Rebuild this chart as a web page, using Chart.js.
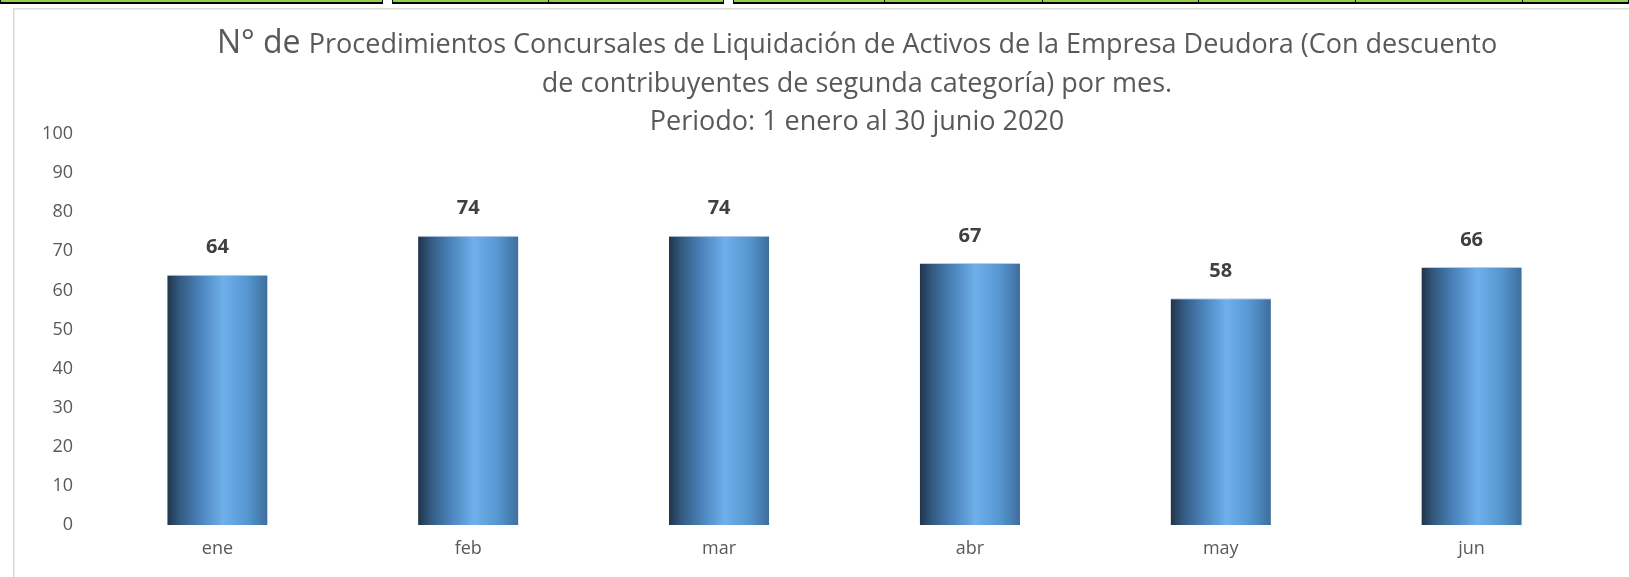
<!DOCTYPE html>
<html>
<head>
<meta charset="utf-8">
<script src="https://cdn.jsdelivr.net/npm/chart.js@4.4.0/dist/chart.umd.min.js"></script>
<style>
  html, body { margin: 0; padding: 0; background: #fff; }
  #wrap { width: 1629px; height: 577px; position: relative; }
</style>
</head>
<body>
<div id="wrap"><canvas id="myChart" width="1629" height="577"></canvas></div>
<script>
const months = ['ene', 'feb', 'mar', 'abr', 'may', 'jun'];
const counts = [64, 74, 74, 67, 58, 66];
const titleLead = 'N° de';
const titleLines = [
    'Procedimientos Concursales de Liquidación de Activos de la Empresa Deudora (Con descuento',
    'de contribuyentes de segunda categoría) por mes.',
    'Periodo: 1 enero al 30 junio 2020'
];

const FONT = "'Open Sans', 'Noto Sans', sans-serif";
let ctx = document.getElementById('myChart').getContext('2d');

// gradient for each bar, like the excel "cylinder" fill
function barFill(c) {
    const chart = c.chart;
    if (!chart.chartArea || !chart.scales.x) return '#5b9bd5';
    const xs = chart.scales.x;
    const step = xs.getPixelForValue(1) - xs.getPixelForValue(0);
    const w = step * 0.4;
    const cx = xs.getPixelForValue(c.dataIndex);
    const g = chart.ctx.createLinearGradient(cx - w / 2, 0, cx + w / 2, 0);
    g.addColorStop(0, '#203449');
    g.addColorStop(0.12, '#33597f');
    g.addColorStop(0.32, '#4a82ba');
    g.addColorStop(0.56, '#6fb0ec');
    g.addColorStop(0.8, '#5596cf');
    g.addColorStop(1, '#3e6e9c');
    return g;
}

// frame + table strip at the top of the sheet
const sheetBits = {
    id: 'sheetBits',
    beforeDraw(chart) {
        const c = chart.ctx;
        c.save();
        c.fillStyle = '#fff';
        c.fillRect(0, 0, chart.width, chart.height);
        // green cells
        const segs = [[0, 383], [392, 724], [733, 1629]];
        segs.forEach(s => {
            c.fillStyle = '#92d050';
            c.fillRect(s[0], 0, s[1] - s[0], 2);
            c.fillStyle = '#000';
            c.fillRect(s[0], 2, s[1] - s[0], 2);
            c.fillRect(s[0], 0, 1, 4);
            c.fillRect(s[1] - 1, 0, 1, 4);
        });
        [548, 884, 1042, 1198, 1355, 1522].forEach(x => {
            c.fillRect(x, 0, 1, 4);
        });
        // chart frame
        c.fillStyle = '#d9d9d9';
        c.fillRect(13, 8, chart.width - 13, 1.5);
        c.fillRect(13, 8, 1.5, chart.height - 8);
        c.restore();
    }
};

// title with the bigger "N° de"
const titlePlugin = {
    id: 'titlePlugin',
    afterDraw(chart) {
        const c = chart.ctx;
        const cx = 857;
        c.save();
        c.fillStyle = '#595959';
        c.textBaseline = 'alphabetic';
        c.font = '32px ' + FONT;
        const leadW = c.measureText(titleLead + ' ').width;
        c.font = '27px ' + FONT;
        const l1W = c.measureText(titleLines[0]).width;
        let x = cx - (leadW + l1W) / 2;
        c.textAlign = 'left';
        c.font = '32px ' + FONT;
        c.fillText(titleLead + ' ', x, 53);
        c.font = '27px ' + FONT;
        c.fillText(titleLines[0], x + leadW, 53);
        c.textAlign = 'center';
        c.fillText(titleLines[1], cx, 92);
        c.fillText(titleLines[2], cx, 130);
        c.restore();
    }
};

// values on top of bars
const valueLabels = {
    id: 'valueLabels',
    afterDatasetsDraw(chart) {
        const c = chart.ctx;
        const meta = chart.getDatasetMeta(0);
        c.save();
        c.fillStyle = '#404040';
        c.font = 'bold 20px ' + FONT;
        c.textAlign = 'center';
        c.textBaseline = 'middle';
        meta.data.forEach((bar, i) => {
            c.fillText(counts[i], bar.x, bar.y - 27);
        });
        c.restore();
    }
};

let chart = new Chart(ctx, {
    type: 'bar',
    data: {
        labels: months,
        datasets: [
            {
                label: 'N° de procedimientos',
                data: counts,
                backgroundColor: barFill,
                borderColor: 'rgba(175, 200, 230, 0.9)',
                borderWidth: { top: 1, left: 0, right: 0, bottom: 0 },
                borderSkipped: false,
                categoryPercentage: 1,
                barPercentage: 0.4
            }
        ]
    },
    options: {
        responsive: false,
        animation: false,
        layout: {
            padding: { left: 14, right: 32, top: 134, bottom: 12 }
        },
        plugins: {
            legend: { display: false },
            title: { display: false },
            tooltip: { enabled: false }
        },
        scales: {
            y: {
                min: 0,
                max: 100,
                ticks: {
                    stepSize: 10,
                    color: '#595959',
                    padding: 19,
                    font: { family: FONT, size: 18 }
                },
                grid: { display: false, drawTicks: false },
                border: { display: false },
                afterFit: scale => { scale.width = 78; }
            },
            x: {
                ticks: {
                    color: '#595959',
                    padding: 13,
                    font: { family: FONT, size: 18 }
                },
                grid: { display: false, drawTicks: false },
                border: { display: false },
                afterFit: scale => { scale.height = 40; }
            }
        }
    },
    plugins: [sheetBits, titlePlugin, valueLabels]
});
</script>
</body>
</html>
